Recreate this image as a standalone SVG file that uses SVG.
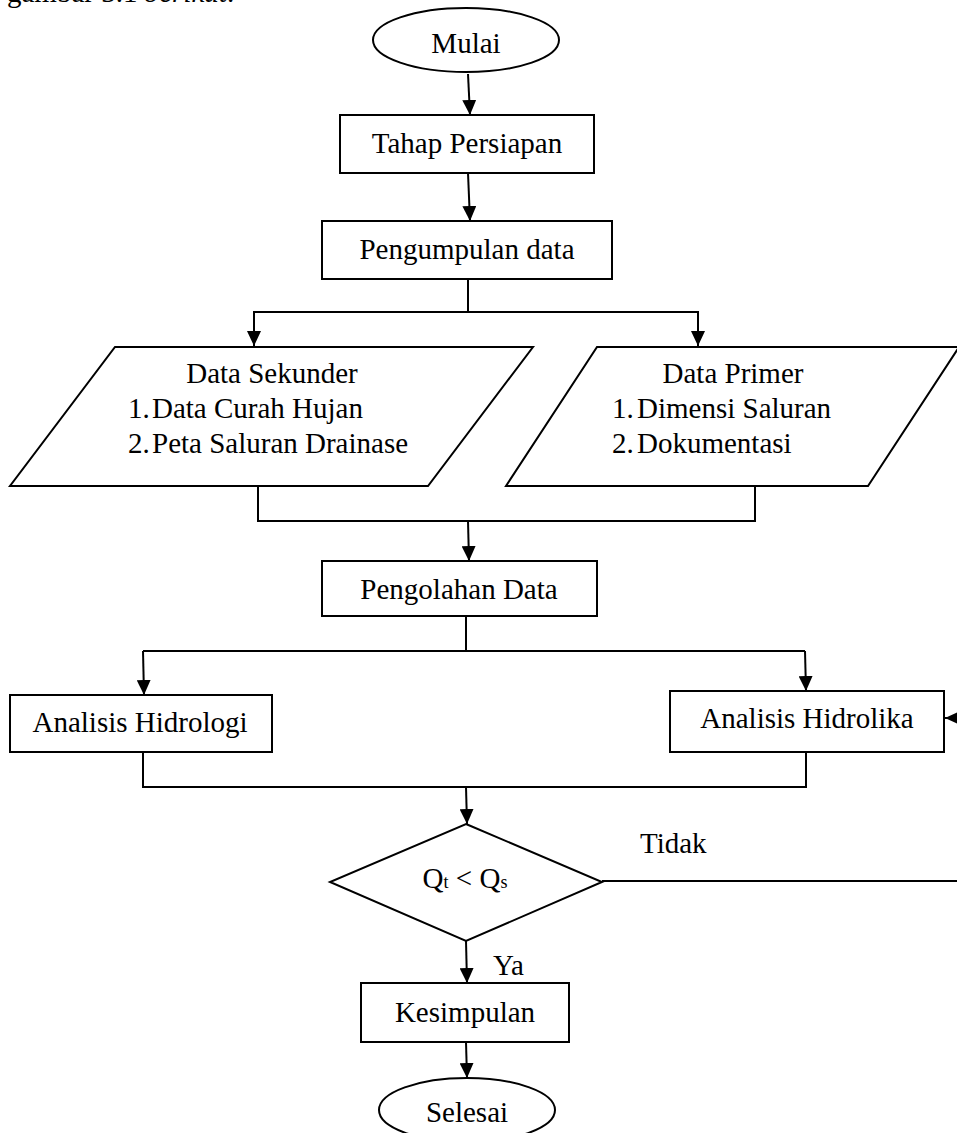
<svg xmlns="http://www.w3.org/2000/svg" width="957" height="1133" viewBox="0 0 957 1133">
<defs>
<style>
.s{fill:#fff;stroke:#000;stroke-width:2}
.c{fill:none;stroke:#000;stroke-width:2}
.t{font-family:"Liberation Serif","Times New Roman",serif;font-size:29px;fill:#000}
.m{text-anchor:middle}
</style>
<marker id="ah" markerUnits="userSpaceOnUse" viewBox="0 0 15 14" refX="15" refY="7" markerWidth="15" markerHeight="14" orient="auto">
<path d="M0,0 L15,7 L0,14 z" fill="#000"/>
</marker>
</defs>
<rect width="957" height="1133" fill="#fff"/>
<text class="t" x="7" y="2">gambar 3.1 <tspan font-style="italic">berikut</tspan>.</text>
<g id="connectors">
<path class="c" d="M468,74 L470,115" marker-end="url(#ah)"/>
<path class="c" d="M468,173 L470,221" marker-end="url(#ah)"/>
<path class="c" d="M468,279 L468,312"/>
<path class="c" d="M254,346 L254,312 L698,312 L698,346" />
<path class="c" d="M254,312 L254,346" marker-end="url(#ah)"/>
<path class="c" d="M698,312 L698,346" marker-end="url(#ah)"/>
<path class="c" d="M258,486 L258,521 L755,521 L755,486"/>
<path class="c" d="M468,521 L469,561" marker-end="url(#ah)"/>
<path class="c" d="M466,616 L466,651"/>
<path class="c" d="M143,651 L805,651"/>
<path class="c" d="M143,651 L144,695" marker-end="url(#ah)"/>
<path class="c" d="M805,651 L806,691" marker-end="url(#ah)"/>
<path class="c" d="M143,752 L143,787 L806,787 L806,752"/>
<path class="c" d="M466,787 L467,824" marker-end="url(#ah)"/>
<path class="c" d="M602,881 L958,881 L958,718"/>
<path class="c" d="M958,718 L945,718" marker-end="url(#ah)"/>
<path class="c" d="M466,941 L467,983" marker-end="url(#ah)"/>
<path class="c" d="M466,1042 L467,1078" marker-end="url(#ah)"/>
<text class="t" x="640" y="853">Tidak</text>
<text class="t" x="493" y="975">Ya</text>
</g>
<g id="mulai">
<ellipse class="s" cx="466" cy="40" rx="93" ry="32"/>
<text class="t m" x="466" y="53">Mulai</text>
</g>
<g id="tahap-persiapan">
<rect class="s" x="340" y="115" width="254" height="58"/>
<text class="t m" x="467" y="153">Tahap Persiapan</text>
</g>
<g id="pengumpulan-data">
<rect class="s" x="322" y="221" width="290" height="58"/>
<text class="t m" x="467" y="259">Pengumpulan data</text>
</g>
<g id="data-sekunder">
<polygon class="s" points="115,347 533,347 428,486 10,486"/>
<text class="t m" x="272" y="383">Data Sekunder</text>
<text class="t" x="128" y="418">1.</text><text class="t" x="152" y="418">Data Curah Hujan</text>
<text class="t" x="128" y="453">2.</text><text class="t" x="152" y="453">Peta Saluran Drainase</text>
</g>
<g id="data-primer">
<polygon class="s" points="597,347 959,347 868,486 506,486"/>
<text class="t m" x="733" y="383">Data Primer</text>
<text class="t" x="612" y="418">1.</text><text class="t" x="637" y="418">Dimensi Saluran</text>
<text class="t" x="612" y="453">2.</text><text class="t" x="637" y="453">Dokumentasi</text>
</g>
<g id="pengolahan-data">
<rect class="s" x="322" y="561" width="275" height="55"/>
<text class="t m" x="459" y="599">Pengolahan Data</text>
</g>
<g id="analisis-hidrologi">
<rect class="s" x="10" y="695" width="262" height="57"/>
<text class="t m" x="140" y="732">Analisis Hidrologi</text>
</g>
<g id="analisis-hidrolika">
<rect class="s" x="670" y="691" width="274" height="61"/>
<text class="t m" x="807" y="728">Analisis Hidrolika</text>
</g>
<g id="keputusan">
<polygon class="s" points="466,824 602,882 466,941 330,882"/>
<text class="t m" x="465" y="888">Q<tspan font-size="18">t</tspan> &lt; Q<tspan font-size="18">s</tspan></text>
</g>
<g id="kesimpulan">
<rect class="s" x="361" y="983" width="208" height="59"/>
<text class="t m" x="465" y="1022">Kesimpulan</text>
</g>
<g id="selesai">
<ellipse class="s" cx="467" cy="1110" rx="88" ry="32"/>
<text class="t m" x="467" y="1122">Selesai</text>
</g>
</svg>
